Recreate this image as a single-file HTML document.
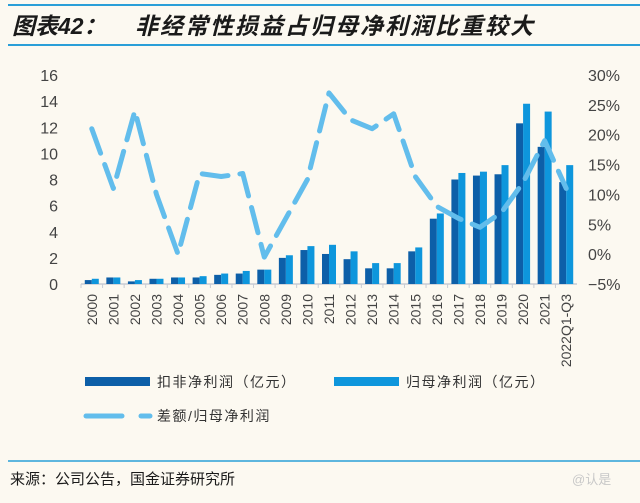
<!DOCTYPE html>
<html><head><meta charset="utf-8"><style>
html,body{margin:0;padding:0;background:#fcf9f1;}
body{width:640px;height:503px;position:relative;overflow:hidden;font-family:"Liberation Sans","Noto Sans CJK SC",sans-serif;}
</style></head><body>
<svg width="640" height="503" xmlns="http://www.w3.org/2000/svg" style="position:absolute;left:0;top:0">
<rect width="640" height="503" fill="#fcf9f1"/>
<line x1="8" y1="5" x2="640" y2="5" stroke="#2a9fd8" stroke-width="2"/>
<g font-weight="bold" font-style="italic" fill="#1a1a1a">
<text x="12" y="34" font-size="23">图表42：</text>
<text x="135" y="34" font-size="23" letter-spacing="2">非经常性损益占归母净利润比重较大</text>
</g>
<line x1="8" y1="45" x2="640" y2="45" stroke="#2a9fd8" stroke-width="2"/>
<g id="plot"></g>
<g>
<rect x="85" y="377" width="65" height="9" fill="#0d5fa8"/>
<text x="157" y="387" font-size="14" fill="#333" letter-spacing="1.5">扣非净利润（亿元）</text>
<rect x="334" y="377" width="65" height="9" fill="#0e96dc"/>
<text x="406" y="387" font-size="14" fill="#333" letter-spacing="1.5">归母净利润（亿元）</text>
<line x1="86" y1="416" x2="122" y2="416" stroke="#62bdec" stroke-width="5" stroke-linecap="round"/>
<line x1="141" y1="416" x2="150" y2="416" stroke="#62bdec" stroke-width="5" stroke-linecap="round"/>
<text x="157" y="421" font-size="14" fill="#333" letter-spacing="1.5">差额/归母净利润</text>
</g>
<line x1="8" y1="461" x2="640" y2="461" stroke="#2a9fd8" stroke-width="1.5"/>
<text x="10" y="484" font-size="15" fill="#1a1a1a">来源：公司公告，国金证券研究所</text>
<text x="572" y="484" font-size="13" fill="#c8c8c8">@认是</text>
</svg>
<script>
const categories=["2000","2001","2002","2003","2004","2005","2006","2007","2008","2009","2010","2011","2012","2013","2014","2015","2016","2017","2018","2019","2020","2021","2022Q1-Q3"];
const koufei=[0.3,0.5,0.2,0.4,0.5,0.5,0.7,0.8,1.1,2.0,2.6,2.3,1.9,1.2,1.2,2.5,5.0,8.0,8.3,8.4,12.3,10.5,7.8];
const guimu=[0.4,0.5,0.3,0.4,0.5,0.6,0.8,1.0,1.1,2.2,2.9,3.0,2.5,1.6,1.6,2.8,5.4,8.5,8.6,9.1,13.8,13.2,9.1];
const ratio=[21,11,24,10,0,13.5,13,13.5,-0.5,6,12.5,27,22.5,21,23.5,13,8,6,4.5,7,12,19,11];
const leftTicks=[0,2,4,6,8,10,12,14,16];
const rightTicks=[-5,0,5,10,15,20,25,30];
const NS="http://www.w3.org/2000/svg";
const g=document.getElementById('plot');
const X0=81,X1=577,Y0=284,Y1=75;
const step=(X1-X0)/categories.length;
const xc=i=>X0+step*(i+0.5);
const yL=v=>Y0-(v/16)*(Y0-Y1);
const yR=v=>Y0-((v+5)/35)*(Y0-Y1);
function mk(t,a){const e=document.createElementNS(NS,t);for(const k in a)e.setAttribute(k,a[k]);g.appendChild(e);return e;}
leftTicks.forEach(v=>{const t=mk('text',{x:58,y:yL(v)+6,'font-size':16,fill:'#444','text-anchor':'end'});t.textContent=v;

});
rightTicks.forEach(v=>{const t=mk('text',{x:588,y:yR(v)+6,'font-size':16,fill:'#444'});t.textContent=(v<0?'−':'')+Math.abs(v)+'%';

});
const ax=mk('line',{x1:X0,y1:Y0,x2:X1,y2:Y0,stroke:'#c8ccd4','stroke-width':1.5});


categories.forEach((c,i)=>{
 const tk=mk('line',{x1:X0+step*i,y1:Y0,x2:X0+step*i,y2:Y0+4,stroke:'#c8ccd4'});
 
 
 const b1=mk('rect',{x:xc(i)-7,y:yL(koufei[i]),width:7,height:Y0-yL(koufei[i]),fill:'#0d5fa8'});
 
 
 const b2=mk('rect',{x:xc(i),y:yL(guimu[i]),width:7,height:Y0-yL(guimu[i]),fill:'#0e96dc'});
 
 
 const t=mk('text',{x:0,y:0,'font-size':14,fill:'#444','text-anchor':'end',transform:`translate(${xc(i)+5},${Y0+10}) rotate(-90)`});
 t.textContent=c;
 
 
});
const pts=ratio.map((v,i)=>xc(i)+','+yR(v)).join(' ');
const pl=mk('polyline',{points:pts,fill:'none',stroke:'#62bdec','stroke-width':5,'stroke-dasharray':'26 12','stroke-linecap':'round','stroke-linejoin':'round'});


</script>
</body></html>
